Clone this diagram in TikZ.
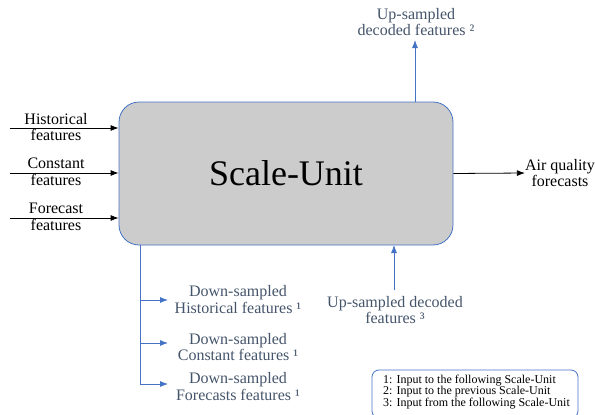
\documentclass[tikz,border=0pt]{standalone}
\usepackage{fontspec}
\setmainfont{Liberation Serif}
\usetikzlibrary{arrows.meta}
\definecolor{lineblue}{HTML}{4472C4}
\definecolor{txtblue}{HTML}{44546A}
\definecolor{boxgray}{HTML}{CCCCCC}
\tikzset{
  lbl/.style={align=center,font=\fontsize{16}{16.5}\selectfont,inner sep=0pt},
  bluelbl/.style={lbl,text=txtblue},
  blk/.style={draw=black,line width=0.8pt,-{Latex[length=8pt,width=6pt]}},
  blu/.style={draw=lineblue,line width=0.8pt,-{Latex[length=8pt,width=6pt]}},
  bluln/.style={draw=lineblue,line width=0.8pt},
}
\begin{document}
\begin{tikzpicture}[x=1pt,y=-1pt]
\useasboundingbox (0,0) rectangle (595,415);
\node[draw=lineblue,fill=boxgray,line width=0.8pt,rounded corners=20pt,minimum width=334pt,minimum height=143pt,inner sep=0pt,font=\fontsize{36}{40}\selectfont] (su) at (286,173.5) {Scale-Unit};
% left inputs
\coordinate (h0) at (10,128);
\coordinate (c0) at (10,173);
\coordinate (f0) at (10,218);
\draw[blk] (h0) -- (h0 -| su.west);
\draw[blk] (c0) -- (c0 -| su.west);
\draw[blk] (f0) -- (f0 -| su.west);
\node[lbl] (hl) at (56,127) {Historical\\features};
\node[lbl] (cl) at (56,172) {Constant\\features};
\node[lbl] (fl) at (56,217) {Forecast\\features};
% right output
\node[lbl] (aq) at (560,173) {Air quality\\forecasts};
\draw[blk] (su.east) -- (aq.west);
% top
\node[bluelbl] (up) at (416,22) {Up-sampled\\decoded features ²};
\coordinate (topst) at (415,102);
\draw[blu] (topst) -- (415,40);
% bottom up arrow
\node[bluelbl] (ud) at (395,310) {Up-sampled decoded\\features ³};
\coordinate (bottop) at (394,245);
\draw[blu] (394,290) -- (bottop);
% down-sampled branch
\coordinate (br0) at (140,245);
\coordinate (br3) at (140,384);
\draw[bluln] (br0) -- (br3);
\node[bluelbl] (d1) at (238,299.5) {Down-sampled\\Historical features ¹};
\node[bluelbl] (d2) at (238,347) {Down-sampled\\Constant features ¹};
\node[bluelbl] (d3) at (238,386.5) {Down-sampled\\Forecasts features ¹};
\draw[blu] (140,300) -- (168,300);
\draw[blu] (140,343) -- (168,343);
\draw[blu] (br3) -- (168,384);
% legend
\draw[draw=lineblue,line width=0.8pt,rounded corners=7pt] (372,370) rectangle (578,418);
\node[align=left,inner sep=0pt,font=\fontsize{12}{11.8}\selectfont,anchor=north west] (leg) at (383,374.5) {1: Input to the following Scale-Unit\\2: Input to the previous Scale-Unit\\3: Input from the following Scale-Unit};
\end{tikzpicture}
\end{document}
